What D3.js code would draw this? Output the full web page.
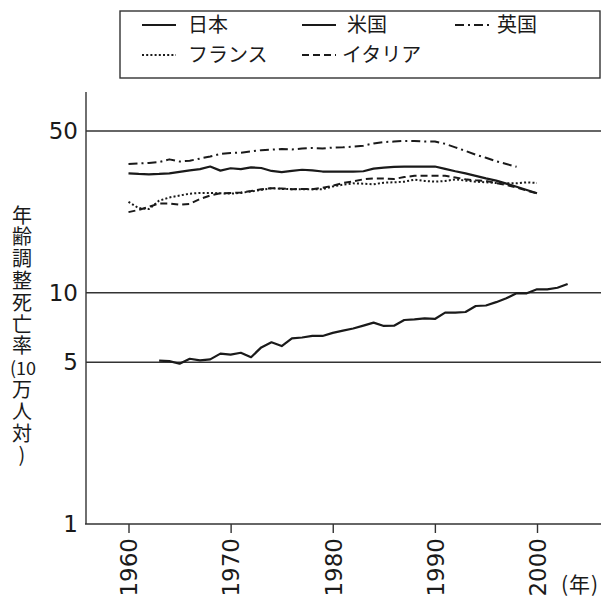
<!DOCTYPE html>
<html>
<head>
<meta charset="utf-8">
<script src="https://cdn.jsdelivr.net/npm/d3@7/dist/d3.min.js"></script>
<style>
  html, body { margin: 0; padding: 0; background: #fff; }
  svg { display: block; }
  .vert { writing-mode: vertical-rl; text-orientation: upright; }
</style>
</head>
<body>
<svg id="chart" width="602" height="598"></svg>
<script>
// ---- data ----
const yTicks = [1, 5, 10, 50];
const xTicks = [1960, 1970, 1980, 1990, 2000];
const seriesNames = ["日本", "米国", "英国", "フランス", "イタリア"];
const yLabelParts = ["年齢調整死亡率", "(10", "万人対)"];
const xUnit = "(年)";

const japanYears = d3.range(1963, 2004);
const japanValues = [5.08, 5.06, 4.93, 5.18, 5.1, 5.15, 5.45, 5.4, 5.5, 5.26,
  5.8, 6.1, 5.88, 6.35, 6.4, 6.5, 6.5, 6.7, 6.85, 7.0,
  7.2, 7.42, 7.18, 7.2, 7.62, 7.66, 7.75, 7.7, 8.2, 8.2,
  8.25, 8.76, 8.8, 9.1, 9.46, 9.94, 9.94, 10.34, 10.34, 10.5,
  10.9];

const usYears = d3.range(1960, 2001);
const usValues = [32.8, 32.6, 32.5, 32.6, 32.8, 33.3, 33.8, 34.2, 35.1, 33.7,
  34.5, 34.2, 34.8, 34.6, 33.6, 33.2, 33.6, 34.0, 33.8, 33.4,
  33.4, 33.4, 33.4, 33.5, 34.4, 34.7, 35.0, 35.1, 35.1, 35.1,
  35.1, 34.3, 33.5, 32.8, 32.0, 31.2, 30.5, 29.6, 28.7, 27.8,
  26.9];

const ukYears = d3.range(1960, 1999);
const ukValues = [36.0, 36.2, 36.4, 36.7, 37.7, 36.9, 37.2, 38.0, 38.8, 39.8,
  40.2, 40.3, 40.8, 41.3, 41.5, 41.8, 41.6, 42.0, 42.2, 42.0,
  42.4, 42.5, 42.8, 43.2, 44.2, 44.8, 45.0, 45.3, 45.3, 45.0,
  45.0, 44.0, 42.5, 41.0, 39.5, 38.3, 37.0, 36.0, 35.0];

const franceYears = d3.range(1960, 2001);
const franceValues = [24.7, 23.2, 23.0, 25.0, 25.8, 26.3, 26.8, 27.0, 27.0, 26.9,
  26.8, 27.0, 27.4, 27.8, 28.3, 28.1, 28.0, 28.0, 28.0, 28.0,
  28.8, 29.3, 29.7, 29.6, 29.4, 29.9, 30.0, 30.2, 30.8, 30.4,
  30.2, 30.4, 30.9, 30.5, 30.2, 30.0, 29.8, 29.7, 29.7, 30.0,
  29.8];

const italyYears = d3.range(1960, 2001);
const italyValues = [22.3, 22.8, 23.5, 24.3, 24.3, 24.0, 24.2, 25.4, 26.3, 26.9,
  27.0, 27.1, 27.5, 28.0, 28.3, 28.2, 28.0, 28.1, 28.0, 28.4,
  29.0, 29.8, 30.3, 30.9, 31.2, 31.2, 31.0, 31.6, 32.0, 32.0,
  32.0, 32.0, 31.5, 30.9, 30.6, 30.4, 29.8, 29.2, 28.5, 27.6,
  26.9];

// ---- layout ----
const svg = d3.select("#chart");
const axisX = 86, plotRight = 601, plotTop = 92, plotBottom = 524;
const x = d3.scaleLinear().domain([1960, 2000]).range([128.5, 537]);
const y = d3.scaleLog().domain([1, 50]).range([plotBottom, 131]);

const ink = "#1a1a1a";
const numFont = "'DejaVu Sans', sans-serif";
const jpFont = "'Noto Sans CJK JP', sans-serif";

const styles = [
  { dash: null, width: 2.2 },
  { dash: null, width: 2.2 },
  { dash: "9,4,2,4", width: 2 },
  { dash: "2,2.2", width: 2 },
  { dash: "7,4", width: 2 }
];

// gridlines
svg.append("g").selectAll("line").data(yTicks.filter(d => d !== 1)).join("line")
  .attr("x1", axisX).attr("x2", plotRight)
  .attr("y1", d => y(d)).attr("y2", d => y(d))
  .attr("stroke", "#333").attr("stroke-width", 1.4);

// y axis line
svg.append("line").attr("x1", axisX).attr("x2", axisX)
  .attr("y1", plotTop).attr("y2", plotBottom)
  .attr("stroke", "#333").attr("stroke-width", 1.4);

// x axis using d3.axisBottom
const xAxis = d3.axisBottom(x).tickValues(xTicks).tickSize(9).tickFormat(d3.format("d"));
const gx = svg.append("g").attr("transform", `translate(0,${plotBottom})`).call(xAxis);
gx.select(".domain").remove();
gx.selectAll(".tick line").attr("stroke", "#333").attr("stroke-width", 1.4);
gx.selectAll(".tick text")
  .attr("font-family", numFont).attr("font-size", 23).attr("fill", ink)
  .attr("text-anchor", "end")
  .attr("transform", "translate(0,14) rotate(-90)")
  .attr("x", 0).attr("y", 0).attr("dy", "0.36em");
svg.append("line").attr("x1", axisX - 1).attr("x2", plotRight)
  .attr("y1", plotBottom).attr("y2", plotBottom)
  .attr("stroke", "#333").attr("stroke-width", 1.4);

// y axis labels via d3.axisLeft
const yAxis = d3.axisLeft(y).tickValues(yTicks).tickSize(0).tickPadding(8).tickFormat(d3.format("d"));
const gy = svg.append("g").attr("transform", `translate(${axisX},0)`).call(yAxis);
gy.select(".domain").remove();
gy.selectAll(".tick text")
  .attr("font-family", numFont).attr("font-size", 23).attr("fill", ink);

// series lines
const series = [
  { years: japanYears, values: japanValues },
  { years: usYears, values: usValues },
  { years: ukYears, values: ukValues },
  { years: franceYears, values: franceValues },
  { years: italyYears, values: italyValues }
];
const line = d3.line().x(d => x(d[0])).y(d => y(d[1]));
series.forEach((s, i) => {
  const pts = s.years.map((yr, j) => [yr, s.values[j]]);
  svg.append("path").datum(pts)
    .attr("d", line)
    .attr("fill", "none")
    .attr("stroke", ink)
    .attr("stroke-width", styles[i].width)
    .attr("stroke-linejoin", "round")
    .attr("stroke-dasharray", styles[i].dash);
});

// y-axis title: vertical part, horizontal "(10", vertical part
const step = 21.8;
const top0 = 205;
svg.append("text").attr("class", "vert")
  .attr("x", 22).attr("y", top0)
  .attr("font-family", jpFont).attr("font-size", 20)
  .attr("letter-spacing", step - 20)
  .attr("fill", ink)
  .text(yLabelParts[0]);
svg.append("text")
  .attr("x", 23).attr("y", top0 + 7 * step + step / 2).attr("dy", "0.36em")
  .attr("text-anchor", "middle")
  .attr("font-family", jpFont).attr("font-size", 18)
  .attr("fill", ink)
  .text(yLabelParts[1]);
svg.append("text").attr("class", "vert")
  .attr("x", 22).attr("y", top0 + 8 * step)
  .attr("font-family", jpFont).attr("font-size", 20)
  .attr("letter-spacing", step - 20)
  .attr("fill", ink)
  .text(yLabelParts[2]);

// x unit
svg.append("text").attr("x", 561).attr("y", 592)
  .attr("font-family", jpFont).attr("font-size", 21).attr("fill", ink)
  .attr("letter-spacing", 1)
  .text(xUnit);

// legend
const lg = svg.append("g");
lg.append("rect").attr("x", 120).attr("y", 11).attr("width", 480).attr("height", 67)
  .attr("fill", "none").attr("stroke", "#333").attr("stroke-width", 1.4);
const legendPos = [
  { lx: 142, tx: 188, row: 0 },
  { lx: 302, tx: 347, row: 0 },
  { lx: 455, tx: 497, row: 0 },
  { lx: 142, tx: 188, row: 1 },
  { lx: 302, tx: 342, row: 1 }
];
const rowY = [25, 55];
seriesNames.forEach((name, i) => {
  const p = legendPos[i];
  lg.append("line")
    .attr("x1", p.lx).attr("x2", p.lx + 34)
    .attr("y1", rowY[p.row]).attr("y2", rowY[p.row])
    .attr("stroke", ink).attr("stroke-width", styles[i].width)
    .attr("stroke-dasharray", styles[i].dash);
  lg.append("text").attr("x", p.tx).attr("y", rowY[p.row]).attr("dy", "0.36em")
    .attr("font-family", jpFont).attr("font-size", 20).attr("fill", ink)
    .text(name);
});
</script>
</body>
</html>
